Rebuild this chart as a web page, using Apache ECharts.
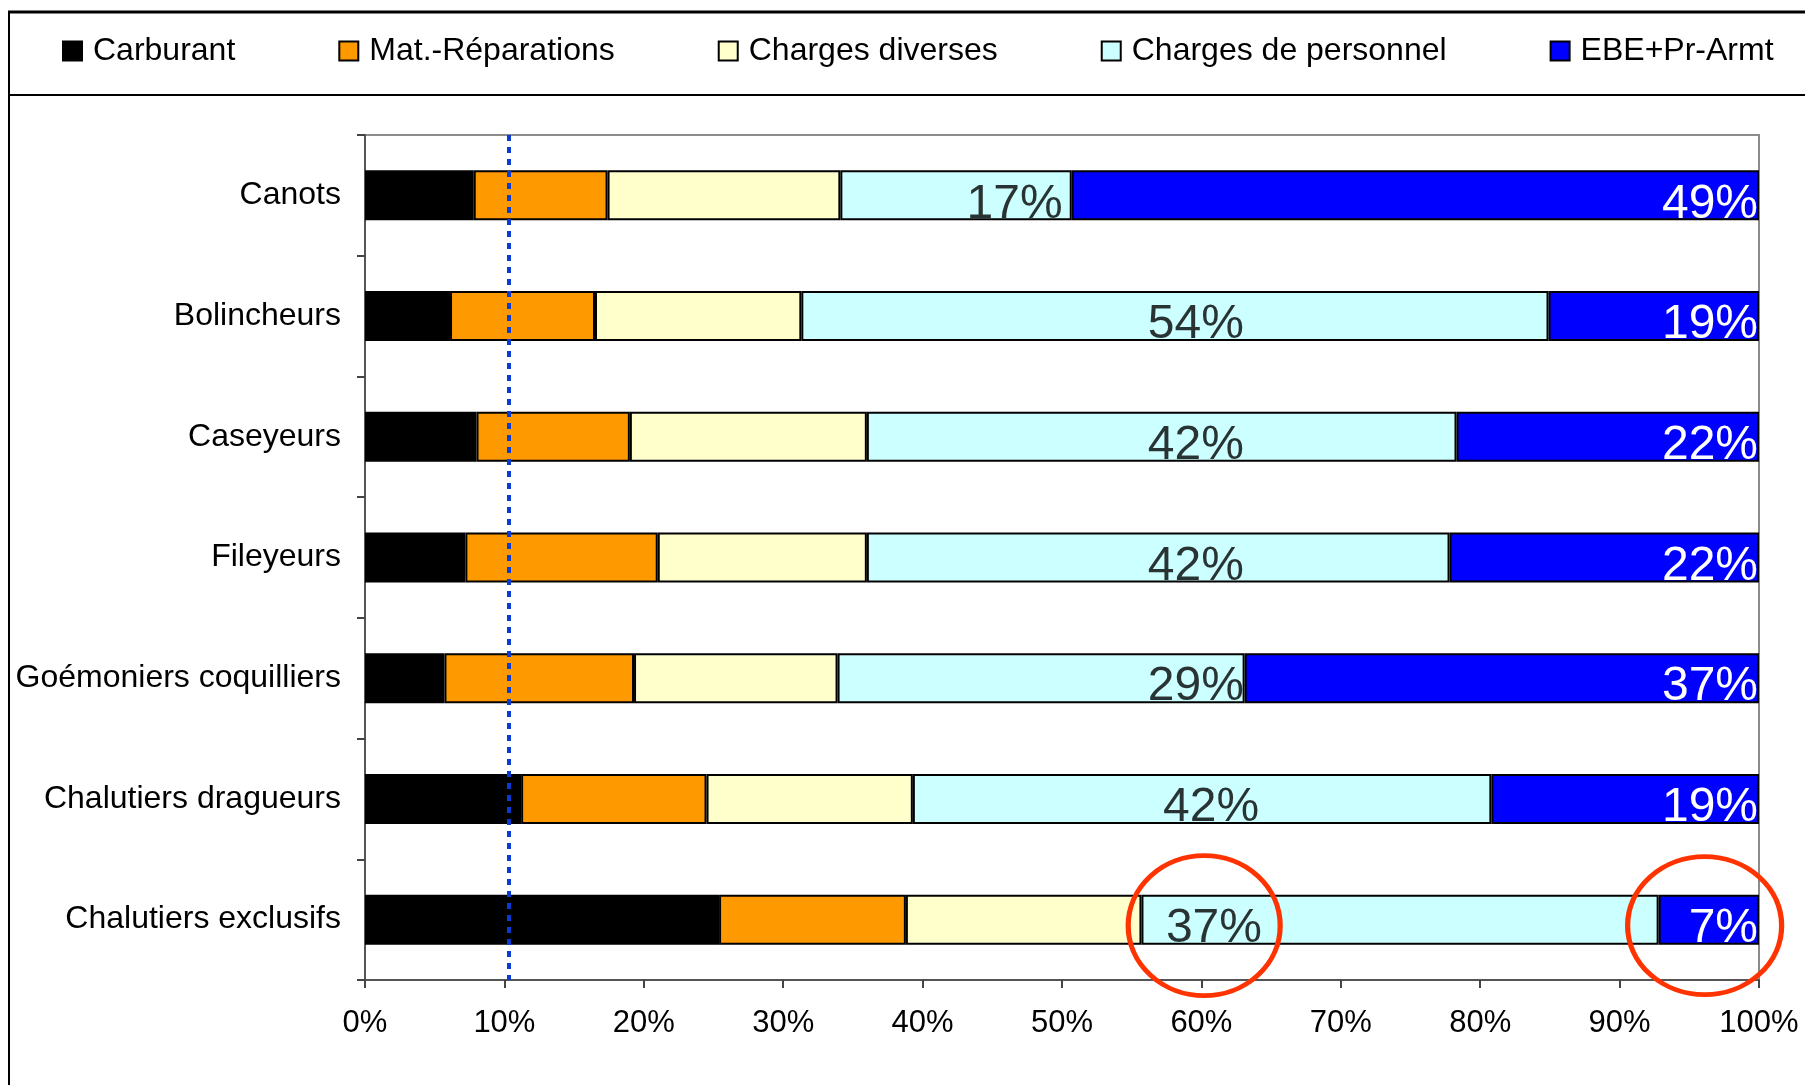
<!DOCTYPE html>
<html>
<head>
<meta charset="utf-8">
<script src="https://cdn.jsdelivr.net/npm/echarts@6/dist/echarts.min.js"></script>
<style>
html,body{margin:0;padding:0;background:#fff;}
#chart{width:1805px;height:1085px;}
</style>
</head>
<body>
<div id="chart"></div>
<script>
var categories = ['Canots', 'Bolincheurs', 'Caseyeurs', 'Fileyeurs', 'Goémoniers coquilliers', 'Chalutiers dragueurs', 'Chalutiers exclusifs'];
var seriesNames = ['Carburant', 'Mat.-Réparations', 'Charges diverses', 'Charges de personnel', 'EBE+Pr-Armt'];
var carburant = [7.8, 6.1, 8.0, 7.2, 5.7, 11.2, 25.4];
var materiel = [9.6, 10.4, 11.0, 13.8, 13.6, 13.3, 13.4];
var diverses = [16.7, 14.8, 17.0, 15.0, 14.6, 14.8, 16.9];
var personnel = [16.6, 53.6, 42.3, 41.8, 29.2, 41.5, 37.1];
var ebe = [49.3, 15.1, 21.7, 22.2, 36.9, 19.2, 7.2];
var personnelLabels = ['17%', '54%', '42%', '42%', '29%', '42%', '37%'];
var ebeLabels = ['49%', '19%', '22%', '22%', '37%', '19%', '7%'];
var personnelLabelAt = [46.6, 59.6, 59.6, 59.6, 59.6, 60.7, 60.9];
var refLine = 10.3;
var circled = [60.2, 96.1];
var xTicks = [0, 10, 20, 30, 40, 50, 60, 70, 80, 90, 100];

var FONT = 'Liberation Sans, Arial, sans-serif';
var colors = ['#000000', '#FF9900', '#FFFFCC', '#CCFFFF', '#0000FF'];
var values = [carburant, materiel, diverses, personnel, ebe];

var chart = echarts.init(document.getElementById('chart'), null, {renderer: 'canvas'});

var series = seriesNames.map(function (name, i) {
  var s = {
    name: name,
    type: 'bar',
    stack: 'total',
    barWidth: 50,
    data: values[i],
    itemStyle: {color: colors[i], borderColor: '#000', borderWidth: 2},
    emphasis: {disabled: true},
    z: 2
  };
  if (i === 4) {
    s.label = {
      show: true,
      position: 'insideRight',
      distance: 1,
      offset: [0, 9],
      color: '#FFFFFF',
      fontFamily: FONT,
      fontSize: 48,
      formatter: function (p) { return ebeLabels[p.dataIndex]; }
    };
  }
  if (i === 0) {
    s.markLine = {
      silent: true,
      symbol: ['none', 'none'],
      label: {show: false},
      lineStyle: {color: '#0A3CD2', width: 4, type: [6, 6]},
      data: [{xAxis: refLine}],
      z: 10
    };
  }
  return s;
});

series.push({
  name: 'labels',
  type: 'scatter',
  symbolSize: 0,
  silent: true,
  z: 5,
  data: categories.map(function (c, i) { return [personnelLabelAt[i], c]; }),
  label: {
    show: true,
    position: 'inside',
    offset: [0, 9],
    color: '#000000',
    textBorderWidth: 0,
    fontFamily: FONT,
    fontSize: 48,
    formatter: function (p) { return personnelLabels[p.dataIndex]; }
  },
  markPoint: {
    silent: true,
    symbol: 'circle',
    symbolOffset: [0, 6],
    itemStyle: {color: 'rgba(0,0,0,0)', borderColor: '#FF3300', borderWidth: 5},
    label: {show: false},
    data: [
      {coord: [circled[0], categories[6]], symbolSize: [152, 140]},
      {coord: [circled[1], categories[6]], symbolSize: [154, 138]}
    ],
    z: 12
  }
});

var option = {
  backgroundColor: '#fff',
  animation: false,
  textStyle: {fontFamily: FONT},
  graphic: [
    {type: 'line', shape: {x1: 8, y1: 12, x2: 1805, y2: 12}, style: {stroke: '#000', lineWidth: 3}},
    {type: 'line', shape: {x1: 9, y1: 11, x2: 9, y2: 1085}, style: {stroke: '#000', lineWidth: 2}},
    {type: 'line', shape: {x1: 9, y1: 95, x2: 1805, y2: 95}, style: {stroke: '#000', lineWidth: 2}}
  ],
  legend: {
    data: seriesNames,
    left: 57,
    top: 30,
    itemGap: 103,
    itemWidth: 19,
    itemHeight: 19,
    icon: 'rect',
    textStyle: {fontFamily: FONT, fontSize: 32, color: '#000', padding: [0, 0, 0, 6]},
    selectedMode: false
  },
  grid: {
    left: 365, right: 46, top: 135, bottom: 105,
    show: true, borderColor: '#8C8C8C', borderWidth: 2, backgroundColor: 'transparent'
  },
  xAxis: {
    type: 'value',
    min: 0, max: 100, interval: 10,
    axisLine: {show: true, lineStyle: {color: '#555', width: 2}},
    axisTick: {show: true, length: 8, lineStyle: {color: '#444', width: 2}},
    splitLine: {show: false},
    axisLabel: {
      margin: 28,
      fontFamily: FONT, fontSize: 31, color: '#000',
      formatter: function (v) { return xTicks.indexOf(v) >= 0 ? v + '%' : ''; }
    }
  },
  yAxis: {
    type: 'category',
    data: categories,
    inverse: true,
    axisLine: {show: true, lineStyle: {color: '#555', width: 2}},
    axisTick: {show: true, length: 8, alignWithLabel: false, lineStyle: {color: '#444', width: 2}},
    axisLabel: {margin: 24, fontFamily: FONT, fontSize: 32, color: '#000'}
  },
  series: series
};
chart.setOption(option);
</script>
</body>
</html>
